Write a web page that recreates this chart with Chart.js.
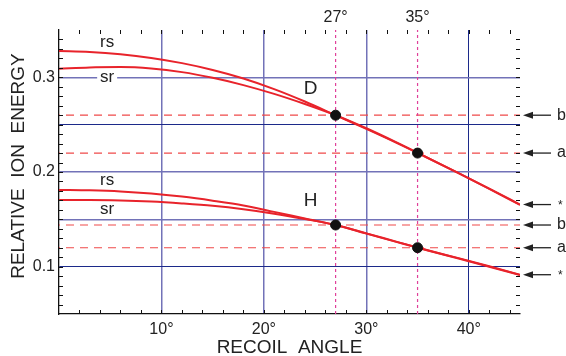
<!DOCTYPE html>
<html>
<head>
<meta charset="utf-8">
<script src="https://cdn.jsdelivr.net/npm/chart.js@4.4.0/dist/chart.umd.min.js"></script>
<style>
    html, body { margin: 0; padding: 0; background: #fff; }
    #wrap { width: 566px; height: 356px; }
</style>
</head>
<body>
<div id="wrap"><canvas id="chart" width="566" height="356"></canvas></div>
<script>
// Recoil angle samples (degrees)
const angles = [0, 3, 6, 9, 12, 15, 18, 21, 24, 27, 30, 33, 36, 39, 42, 45];

// D curves (rs / sr)
const dRs = [0.3278, 0.3268, 0.3244, 0.3205, 0.3150, 0.3078, 0.2988, 0.2876, 0.2745, 0.2600, 0.2455, 0.2305, 0.2148, 0.1988, 0.1825, 0.1656];
const dSr = [0.3090, 0.3105, 0.3108, 0.3093, 0.3055, 0.2995, 0.2918, 0.2825, 0.2718, 0.2600, 0.2462, 0.2310, 0.2150, 0.1988, 0.1822, 0.1652];

// H curves (rs / sr)
const hRs = [0.1810, 0.1806, 0.1795, 0.1773, 0.1740, 0.1697, 0.1647, 0.1579, 0.1509, 0.1440, 0.1352, 0.1262, 0.1173, 0.1090, 0.1004, 0.0915];
const hSr = [0.1705, 0.1705, 0.1700, 0.1688, 0.1668, 0.1643, 0.1607, 0.1560, 0.1503, 0.1440, 0.1350, 0.1259, 0.1170, 0.1087, 0.1000, 0.0911];

// Marked angles and energies
const markAngles = [27, 35];
const dMarks = [0.26, 0.22];
const hMarks = [0.144, 0.12];

// Reference levels on the right edge
const refLabels = ['b', 'a', '*', 'b', 'a', '*'];
const refLevels = [0.26, 0.22, 0.1656, 0.144, 0.12, 0.0915];
const dashedLevels = [0.26, 0.22, 0.144, 0.12];

// Tick labels / grid
const xTicks = [10, 20, 30, 40];
const yTicks = [0.1, 0.2, 0.3];
const yGrid = [0.1, 0.15, 0.2, 0.25, 0.3];

const FONT = '"Liberation Sans", Arial, Helvetica, sans-serif';
const RED = '#e8232b';
const TEXT = '#222';

const toPts = (ys) => angles.map((a, i) => ({ x: a, y: ys[i] }));

const curve = (label, ys) => ({
    label,
    data: toPts(ys),
    borderColor: RED,
    borderWidth: 2,
    pointRadius: 0,
    cubicInterpolationMode: 'monotone',
    fill: false,
    order: 1
});

const hLine = (y) => ({
    label: 'level ' + y,
    data: [{ x: 0, y }, { x: 45, y }],
    borderColor: '#f04a4a',
    borderWidth: 1.2,
    borderDash: [8, 6],
    borderDashOffset: 7,
    pointRadius: 0,
    order: 3
});

const vLine = (x) => ({
    label: 'angle ' + x,
    data: [{ x, y: 0.05 }, { x, y: 0.35 }],
    borderColor: '#e0409a',
    borderWidth: 1.2,
    borderDash: [3, 3],
    pointRadius: 0,
    order: 2
});

const dots = {
    label: 'marks',
    type: 'scatter',
    data: markAngles.map((a, i) => ({ x: a, y: dMarks[i] }))
        .concat(markAngles.map((a, i) => ({ x: a, y: hMarks[i] }))),
    backgroundColor: '#111',
    borderColor: '#111',
    pointRadius: 5,
    order: 0
};

// Inward minor ticks, in-plot labels, axis titles, right-side arrows
const overlay = {
    id: 'overlay',
    afterDatasetsDraw(chart) {
        const { ctx, chartArea: area, scales: { x, y } } = chart;
        const px = v => x.getPixelForValue(v);
        const py = v => y.getPixelForValue(v);
        ctx.save();

        // minor ticks on all four sides
        ctx.strokeStyle = '#111';
        ctx.lineWidth = 1;
        ctx.beginPath();
        for (let a = 2; a < 45; a += 2) {
            const p = Math.round(px(a)) + 0.5;
            ctx.moveTo(p, area.bottom); ctx.lineTo(p, area.bottom - 4);
            ctx.moveTo(p, area.top); ctx.lineTo(p, area.top + 4);
        }
        for (let k = 6; k < 35; k++) {
            const p = Math.round(py(k / 100)) + 0.5;
            ctx.moveTo(area.left, p); ctx.lineTo(area.left + 4, p);
            ctx.moveTo(area.right, p); ctx.lineTo(area.right - 4, p);
        }
        ctx.stroke();

        // curve labels
        ctx.fillStyle = TEXT;
        ctx.textAlign = 'center';
        ctx.textBaseline = 'middle';
        ctx.font = `17px ${FONT}`;
        ctx.fillText('rs', px(4.7), py(0.3366));
        ctx.fillStyle = '#fff';
        ctx.fillRect(px(4.7) - 10, py(0.3) - 6, 20, 12);
        ctx.fillStyle = TEXT;
        ctx.fillText('sr', px(4.7), py(0.3));
        ctx.fillText('rs', px(4.7), py(0.1912));
        ctx.fillText('sr', px(4.7), py(0.1607));
        ctx.font = `19px ${FONT}`;
        ctx.fillText('D', px(24.56), py(0.2878));
        ctx.fillText('H', px(24.56), py(0.1694));

        // angle labels above plot
        ctx.font = `16px ${FONT}`;
        markAngles.forEach(a => ctx.fillText(a + '°', px(a), 18));

        // axis titles
        ctx.font = `19px ${FONT}`;
        ctx.fillText('RECOIL  ANGLE', (area.left + area.right) / 2, 348);
        ctx.save();
        ctx.translate(18.5, 166);
        ctx.rotate(-Math.PI / 2);
        ctx.fillText('RELATIVE  ION  ENERGY', 0, 0);
        ctx.restore();

        // arrows and labels on the right
        ctx.strokeStyle = '#222';
        ctx.fillStyle = '#222';
        ctx.lineWidth = 1.3;
        refLevels.forEach((lv, i) => {
            const yy = py(lv);
            const tip = area.right + 3;
            ctx.beginPath();
            ctx.moveTo(551, yy);
            ctx.lineTo(tip + 8, yy);
            ctx.stroke();
            ctx.beginPath();
            ctx.moveTo(tip, yy);
            ctx.lineTo(tip + 10, yy - 3.5);
            ctx.lineTo(tip + 10, yy + 3.5);
            ctx.closePath();
            ctx.fill();
            ctx.textAlign = 'left';
            if (refLabels[i] === '*') {
                ctx.font = `12px ${FONT}`;
                ctx.fillText('*', 558, yy + 1);
            } else {
                ctx.font = `16px ${FONT}`;
                ctx.fillText(refLabels[i], 557, yy);
            }
        });
        ctx.restore();
    }
};

const darkGrid = [0.25, 0.1, 40];

new Chart(document.getElementById('chart'), {
    type: 'line',
    data: {
        datasets: [
            dots,
            curve('D rs', dRs),
            curve('D sr', dSr),
            curve('H rs', hRs),
            curve('H sr', hSr),
            ...markAngles.map(vLine),
            ...dashedLevels.map(hLine)
        ]
    },
    options: {
        responsive: false,
        animation: false,
        layout: { padding: { top: 30, right: 46, left: 0, bottom: 0 } },
        plugins: { legend: { display: false }, tooltip: { enabled: false } },
        scales: {
            x: {
                type: 'linear',
                min: 0,
                max: 45,
                afterBuildTicks: s => { s.ticks = xTicks.map(v => ({ value: v })); },
                afterFit: s => { s.height = 42; },
                grid: {
                    drawTicks: false,
                    color: c => darkGrid.includes(c.tick && c.tick.value) ? '#1c2a8a' : '#7272b8',
                    lineWidth: c => darkGrid.includes(c.tick && c.tick.value) ? 1 : 1.5
                },
                border: { color: '#111', width: 1.3 },
                ticks: {
                    callback: v => v + '°',
                    font: { family: FONT, size: 16 },
                    color: TEXT,
                    padding: 6,
                    maxRotation: 0,
                    autoSkip: false
                }
            },
            y: {
                type: 'linear',
                min: 0.05,
                max: 0.35,
                afterBuildTicks: s => { s.ticks = yGrid.map(v => ({ value: v })); },
                afterFit: s => { s.width = 59; },
                grid: {
                    drawTicks: false,
                    color: c => darkGrid.includes(c.tick && c.tick.value) ? '#1c2a8a' : '#7272b8',
                    lineWidth: c => darkGrid.includes(c.tick && c.tick.value) ? 1 : 1.5
                },
                border: { color: '#111', width: 1.3 },
                ticks: {
                    callback: v => yTicks.includes(v) ? v.toFixed(1) : '',
                    font: { family: FONT, size: 16 },
                    color: TEXT,
                    padding: 4,
                    autoSkip: false
                }
            }
        }
    },
    plugins: [overlay]
});
</script>
</body>
</html>
